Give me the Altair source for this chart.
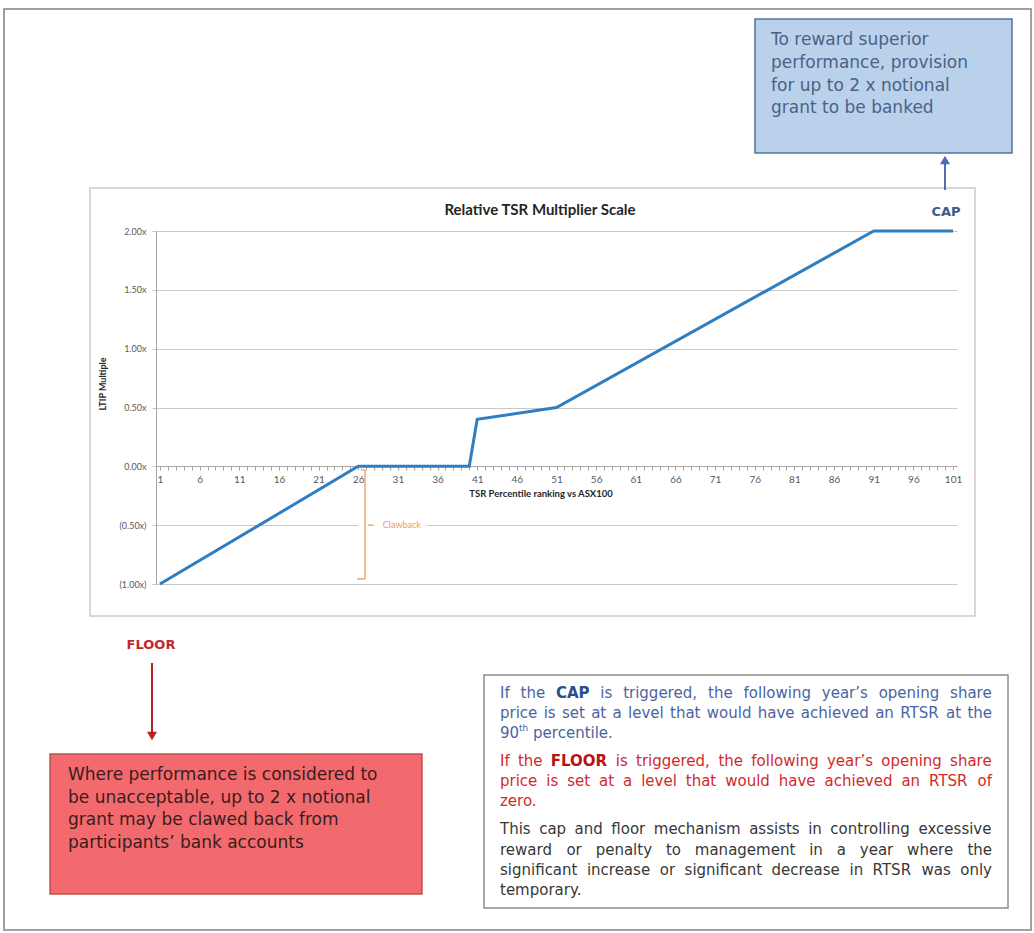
import altair as alt
import pandas as pd

# ---------------- data ----------------
rank = [1, 26, 40, 41, 51, 91, 101]
multiple = [-1.00, 0.00, 0.00, 0.40, 0.50, 2.00, 2.00]
x_tick_values = list(range(1, 102))
y_tick_values = [-1.0, -0.5, 0.0, 0.5, 1.0, 1.5, 2.0]

chart_title = "Relative TSR Multiplier Scale"
x_title = "TSR Percentile ranking vs ASX100"
y_title = "LTIP Multiple"
clawback_label = "Clawback"
cap_label = "CAP"
floor_label = "FLOOR"
cap_box_lines = ["To reward superior", "performance, provision",
                 "for up to 2 x notional", "grant to be banked"]
floor_box_lines = ["Where performance is considered to",
                   "be unacceptable, up to 2 x notional",
                   "grant may be clawed back from",
                   "participants\u2019 bank accounts"]
note_lines = [
    ("blue", "If the *CAP* is triggered, the following year\u2019s opening share", True),
    ("blue", "price is set at a level that would have achieved an RTSR at the", True),
    ("blue", "90^th percentile.", False),
    ("red", "If the *FLOOR* is triggered, the following year\u2019s opening share", True),
    ("red", "price is set at a level that would have achieved an RTSR of", True),
    ("red", "zero.", False),
    ("dark", "This cap and floor mechanism assists in controlling excessive", True),
    ("dark", "reward or penalty to management in a year where the", True),
    ("dark", "significant increase or significant decrease in RTSR was only", True),
    ("dark", "temporary.", False),
]

# ---------------- layout ----------------
W, H = 801, 353
PAD_L, PAD_T = 156, 231
PAD_R, PAD_B = 1034 - PAD_L - W, 933 - PAD_T - H


def px(X):
    return X - PAD_L


def py(Y):
    return Y - PAD_T


REG = {' ': 0.318, 'a': 0.613, 'b': 0.635, 'c': 0.550, 'd': 0.635, 'e': 0.615,
       'f': 0.352, 'g': 0.635, 'h': 0.634, 'i': 0.278, 'j': 0.278, 'k': 0.579,
       'l': 0.278, 'm': 0.974, 'n': 0.634, 'o': 0.612, 'p': 0.635, 'q': 0.635,
       'r': 0.411, 's': 0.521, 't': 0.392, 'u': 0.634, 'v': 0.592, 'w': 0.818,
       'x': 0.592, 'y': 0.592, 'z': 0.525, ',': 0.318, '.': 0.318,
       '\u2019': 0.318, "'": 0.275, 'A': 0.684, 'C': 0.698, 'F': 0.575,
       'I': 0.295, 'L': 0.557, 'O': 0.787, 'P': 0.603, 'R': 0.695, 'S': 0.635,
       'T': 0.611, 'W': 0.989}
for _d in "0123456789":
    REG[_d] = 0.636
BOLD = {'A': 0.774, 'C': 0.734, 'F': 0.683, 'L': 0.637, 'O': 0.850,
        'P': 0.733, 'R': 0.770, ' ': 0.348}


def tw(s, size, bold=False):
    table = BOLD if bold else REG
    return sum(table.get(ch, REG.get(ch, 0.6)) for ch in s) * size


NOTE_X0, NOTE_X1 = 500, 992
NOTE_SIZE, NOTE_SUP = 15, 9
note_y = [693, 713, 733, 761, 781, 801, 829, 850, 870, 890]
tone_color = {"blue": "#4a64a3", "red": "#d3292b", "dark": "#383838"}
tone_bold = {"blue": "#2c4d8e", "red": "#b71515", "dark": "#222222"}

reg_rows, bold_rows = [], []
for (tone, line, justify), Y in zip(note_lines, note_y):
    pieces = []
    for tok in line.split(" "):
        if tok.startswith("*"):
            word = tok.strip("*")
            pieces.append(([(word, 0, 0, NOTE_SIZE, True)], tw(word, NOTE_SIZE, True)))
        elif "^" in tok:
            base, sup = tok.split("^")
            wb = tw(base, NOTE_SIZE)
            pieces.append(([(base, 0, 0, NOTE_SIZE, False),
                            (sup, wb, -5, NOTE_SUP, False)], wb + tw(sup, NOTE_SUP)))
        else:
            pieces.append(([(tok, 0, 0, NOTE_SIZE, False)], tw(tok, NOTE_SIZE)))
    total = sum(w for _, w in pieces)
    if justify and len(pieces) > 1:
        gap = (NOTE_X1 - NOTE_X0 - total) / (len(pieces) - 1)
    else:
        gap = tw(" ", NOTE_SIZE)
    X = NOTE_X0
    for subs, w in pieces:
        for (t, dx, dy, s, b) in subs:
            row = {"t": t, "x": px(X + dx), "y": py(Y + dy), "s": s,
                   "c": tone_bold[tone] if b else tone_color[tone]}
            (bold_rows if b else reg_rows).append(row)
        X += w + gap

for t, Y in zip(cap_box_lines, [40, 63, 86, 108]):
    reg_rows.append({"t": t, "x": px(771), "y": py(Y), "s": 17, "c": "#4b6284"})
for t, Y in zip(floor_box_lines, [775, 798, 820, 843]):
    reg_rows.append({"t": t, "x": px(68), "y": py(Y), "s": 17, "c": "#3b1c1c"})

one = pd.DataFrame({"k": [0]})


def vrect(X1, Y1, X2, Y2, **kw):
    return alt.Chart(one).mark_rect(**kw).encode(
        x=alt.value(px(X1)), x2=alt.value(px(X2)),
        y=alt.value(py(Y1)), y2=alt.value(py(Y2)))


def vrule(X1, Y1, X2, Y2, **kw):
    return alt.Chart(one).mark_rule(**kw).encode(
        x=alt.value(px(X1)), x2=alt.value(px(X2)),
        y=alt.value(py(Y1)), y2=alt.value(py(Y2)))


def vtext(txt, X, Y, **kw):
    return alt.Chart(one).mark_text(**kw).encode(
        x=alt.value(px(X)), y=alt.value(py(Y)), text=alt.value(txt))


def vpoint(X, Y, **kw):
    return alt.Chart(one).mark_point(**kw).encode(
        x=alt.value(px(X)), y=alt.value(py(Y)))


def words_layer(rows, bold):
    d = pd.DataFrame(rows)
    return alt.Chart(d).mark_text(
        align="left", baseline="middle", font="DejaVu Sans",
        fontWeight="bold" if bold else "normal").encode(
        x=alt.X("x:Q", scale=None), y=alt.Y("y:Q", scale=None),
        text="t:N", color=alt.Color("c:N", scale=None),
        size=alt.Size("s:Q", scale=None))


# ---------------- main chart ----------------
df = pd.DataFrame({"rank": rank, "multiple": multiple})
xscale = alt.Scale(domain=[0.5, 101.5], nice=False, zero=False)
yscale = alt.Scale(domain=[-1, 2], nice=False, zero=False)
ylab = ("datum.value < 0 ? '(' + format(-datum.value, '.2f') + 'x)' "
        ": format(datum.value, '.2f') + 'x'")

line = alt.Chart(df).mark_line(color="#2f7ec1", strokeWidth=3).encode(
    x=alt.X("rank:Q", scale=xscale, axis=alt.Axis(
        values=x_tick_values, tickCount=len(x_tick_values) + 10, format="d",
        labelExpr="(datum.value - 1) % 5 == 0 ? datum.label : ''",
        offset=-118, grid=False, tickSize=4, tickColor="#a6a6a6",
        domainColor="#a6a6a6", labelColor="#595959", labelFontSize=10,
        labelFont="Lato", labelPadding=4, labelOverlap=False,
        labelFlush=False, title=None)),
    y=alt.Y("multiple:Q", scale=yscale, axis=alt.Axis(
        values=y_tick_values, labelExpr=ylab, grid=True, gridColor="#c8c8c8",
        domainColor="#a6a6a6", tickSize=4, tickColor="#c8c8c8",
        labelColor="#595959", labelFontSize=9, labelFont="Lato",
        labelPadding=6, title=None)),
)

# clawback annotation (data space)
claw_bg = pd.DataFrame({"x": [26.0], "x2": [34.7], "y": [-0.535], "y2": [-0.465]})
claw_seg = pd.DataFrame({
    "x":  [26.85, 26.35, 25.85, 27.25],
    "x2": [26.85, 26.85, 26.85, 27.95],
    "y":  [-0.03, -0.03, -0.957, -0.5],
    "y2": [-0.957, -0.03, -0.957, -0.5],
})
claw_txt = pd.DataFrame({"x": [29.1], "y": [-0.5], "t": [clawback_label]})
ORANGE = "#f19a5e"
bg_layer = alt.Chart(claw_bg).mark_rect(fill="white").encode(
    x=alt.X("x:Q", scale=xscale), x2="x2:Q", y=alt.Y("y:Q", scale=yscale), y2="y2:Q")
seg_layer = alt.Chart(claw_seg).mark_rule(color=ORANGE, strokeWidth=1.3).encode(
    x=alt.X("x:Q", scale=xscale), x2="x2:Q", y=alt.Y("y:Q", scale=yscale), y2="y2:Q")
claw_text = alt.Chart(claw_txt).mark_text(
    align="left", baseline="middle", font="Lato", fontSize=9, color=ORANGE).encode(
    x=alt.X("x:Q", scale=xscale), y=alt.Y("y:Q", scale=yscale), text="t:N")

layers = [
    vrect(4, 9, 1031, 930, fill="white", fillOpacity=0, stroke="#a0a0a0", strokeWidth=2),
    vrect(90, 188, 975, 616, fill="white", fillOpacity=0, stroke="#cccccc", strokeWidth=1.5),
    line,
    bg_layer, seg_layer, claw_text,
    vtext(chart_title, 540, 210, align="center", baseline="middle", font="Lato",
          fontSize=15, fontWeight="bold", color="#262626"),
    vtext(x_title, 541, 494, align="center", baseline="middle", font="Lato",
          fontSize=9.5, fontWeight="bold", color="#262626"),
    vtext(y_title, 103, 384, align="center", baseline="middle", font="Lato",
          fontSize=9, fontWeight="bold", color="#262626", angle=270),
    # CAP box and arrow
    vrect(755, 19, 1012, 153, fill="#bad1ec", stroke="#56739a", strokeWidth=1.5),
    vrule(945, 190, 945, 163, color="#4f6fb0", strokeWidth=2),
    vpoint(945, 160, shape="triangle-up", filled=True, size=100, color="#4f6fb0", opacity=1),
    vtext(cap_label, 946, 212, align="center", baseline="middle", font="DejaVu Sans",
          fontSize=13, fontWeight="bold", color="#3c5a8a"),
    # FLOOR label, arrow and box
    vtext(floor_label, 151, 645, align="center", baseline="middle", font="DejaVu Sans",
          fontSize=13, fontWeight="bold", color="#c0282d"),
    vrule(152, 663, 152, 732, color="#b41e1e", strokeWidth=2),
    vpoint(152, 736, shape="triangle-down", filled=True, size=100, color="#b41e1e", opacity=1),
    vrect(50, 754, 422, 894, fill="#f36a6e", stroke="#c0504d", strokeWidth=1.5),
    # note box
    vrect(484, 675, 1008, 908, fill="white", stroke="#8c8c8c", strokeWidth=1.5),
    words_layer(reg_rows, False),
    words_layer(bold_rows, True),
]

chart = alt.layer(*layers).properties(
    width=W, height=H,
    padding={"left": PAD_L, "top": PAD_T, "right": PAD_R, "bottom": PAD_B},
    autosize=alt.AutoSizeParams(type="none"),
    background="white",
).configure_view(stroke=None)

chart.save("out.html", embed_options={"renderer": "svg", "actions": False})
